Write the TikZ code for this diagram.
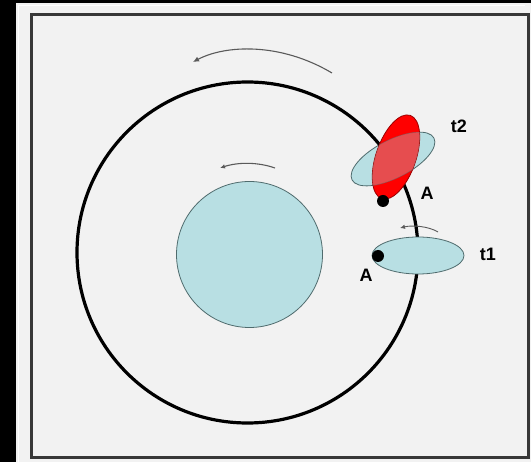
\documentclass[tikz,border=0pt]{standalone}
\usepackage{fontspec}
\setmainfont{Liberation Sans}
\usetikzlibrary{arrows.meta}
\definecolor{bg}{HTML}{F2F2F2}
\definecolor{disc}{HTML}{B8DFE3}
\definecolor{discline}{HTML}{4F6B6D}
\definecolor{framecol}{HTML}{383838}
\definecolor{redline}{HTML}{9A0000}
\definecolor{arrowgray}{HTML}{5A5A5A}
\tikzset{
  orbit/.style={line width=3.2pt, black},
  body/.style={fill=disc, draw=discline, line width=0.8pt},
  spin/.style={arrowgray, line width=1.1pt, -{Latex[length=6pt,width=5.5pt]}},
  marker/.style={fill=black},
  lbl/.style={font=\fontsize{18}{18}\selectfont\bfseries, inner sep=0pt}
}
\begin{document}
\begin{tikzpicture}[x=1pt,y=-1pt]
\useasboundingbox (0,0) rectangle (531,462);
% backdrop and frame
\fill[black] (0,0) rectangle (531,462);
\fill[bg] (16,3.5) rectangle (531,462);
\draw[white, line width=0.8pt] (18.5,5) -- (525,5);
\draw[white, line width=0.8pt] (18.5,5) -- (18.5,462);
\draw[framecol, line width=3pt] (31.5,14.5) rectangle (528,458);

% moon at t2 (lies under the orbit line)
\begin{scope}[shift={(393,159)}, rotate=27]
  \draw[body] (0,0) ellipse[x radius=46, y radius=19];
\end{scope}

% orbit and central body
\draw[orbit] (247.5,252.5) circle[radius=170.5];
\draw[body] (249.5,254.5) circle[radius=73];

% rotation arrows
\draw[spin] (332,73) .. controls (280,42) and (225,45) .. (193,62);
\draw[spin, -{Latex[length=5pt,width=4.5pt]}] (275,168) .. controls (258,162) and (238,162) .. (220,168);
\draw[spin, line width=0.9pt, -{Latex[length=5pt,width=4.5pt]}] (438,232) .. controls (428,226) and (412,225) .. (400,228);

% position t1
\draw[body] (418,255.5) ellipse[x radius=46, y radius=18.5];
\fill[marker] (378,256) circle[radius=6];

% position t2: red rotated copy, blended where it overlaps
\begin{scope}[shift={(396,157)}, rotate=71]
  \draw[fill=red, draw=redline, line width=0.8pt] (0,0) ellipse[x radius=44, y radius=20];
\end{scope}
\begin{scope}
  \clip[shift={(396,157)}, rotate=71] (0,0) ellipse[x radius=44, y radius=20];
  \fill[disc, opacity=0.35, shift={(393,159)}, rotate=27] (0,0) ellipse[x radius=46, y radius=19];
  \draw[discline, opacity=0.4, line width=0.8pt, shift={(393,159)}, rotate=27] (0,0) ellipse[x radius=46, y radius=19];
\end{scope}
\fill[marker] (383,201) circle[radius=6];

% labels
\node[lbl] (t2) at (459,126) {t2};
\node[lbl] (a2) at (427,193) {A};
\node[lbl] (t1) at (488,254) {t1};
\node[lbl] (a1) at (366,275) {A};
\end{tikzpicture}
\end{document}
